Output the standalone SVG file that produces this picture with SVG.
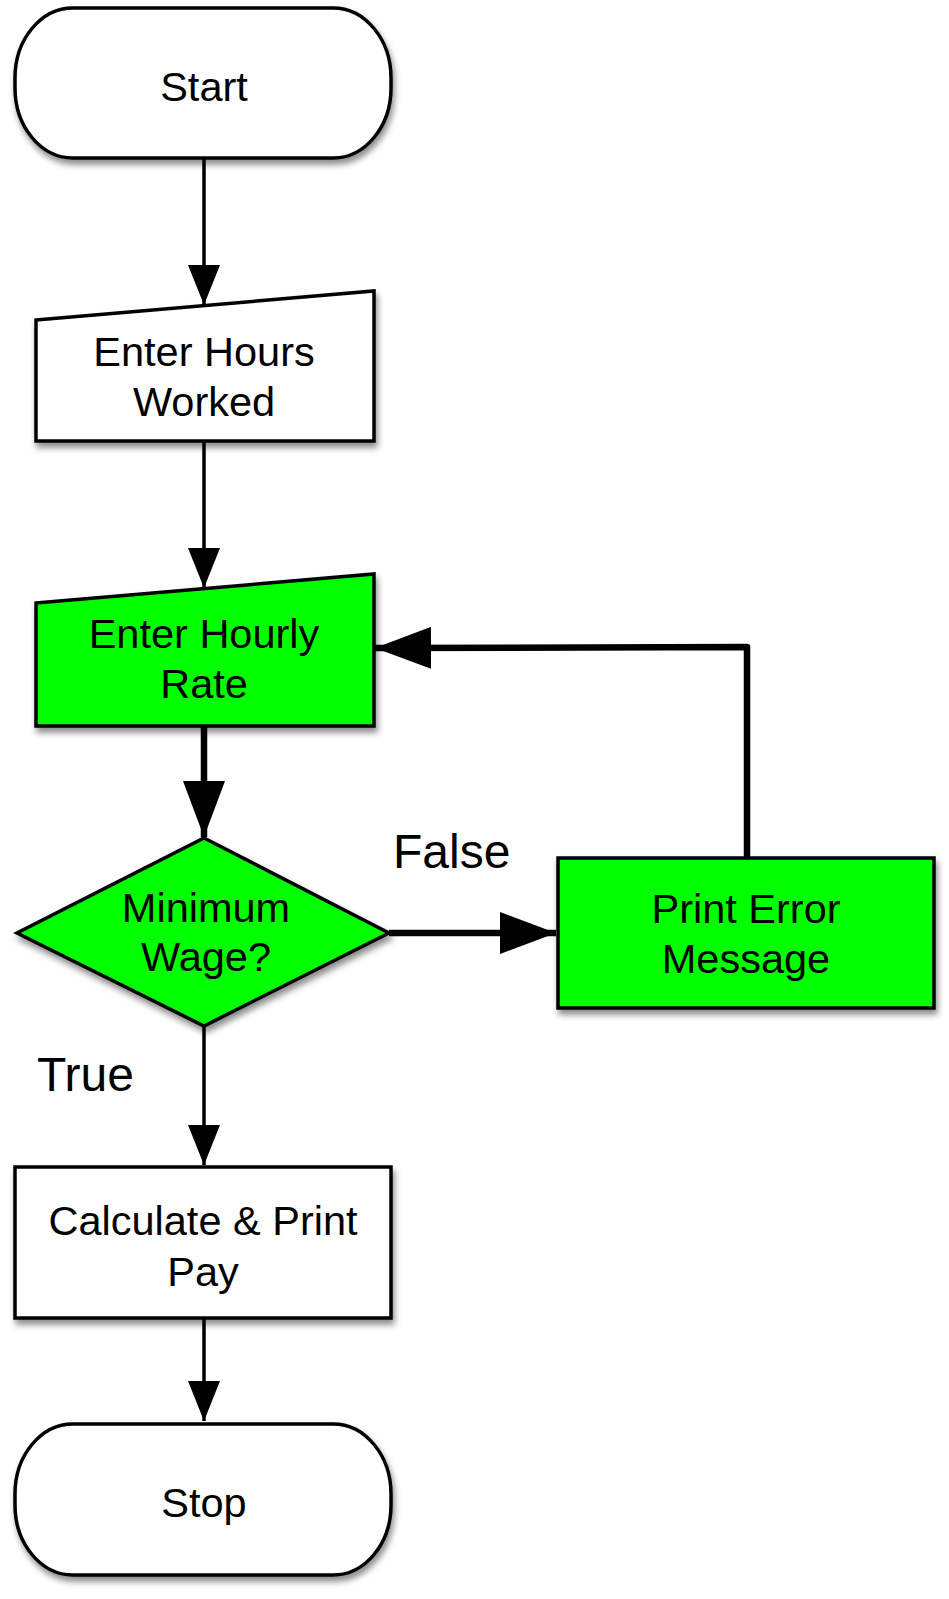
<svg xmlns="http://www.w3.org/2000/svg" width="949" height="1599" viewBox="0 0 949 1599">
<defs>
<filter id="sh" x="-10%" y="-10%" width="125%" height="130%">
<feDropShadow dx="2" dy="5" stdDeviation="3" flood-color="#000" flood-opacity="0.45"/>
</filter>
<marker id="ah" markerUnits="userSpaceOnUse" markerWidth="40" markerHeight="32" refX="40" refY="16" orient="auto">
<path d="M0,0 L40,16 L0,32 Z" fill="#000"/>
</marker>
<marker id="ahb" markerUnits="userSpaceOnUse" markerWidth="56" markerHeight="42" refX="56" refY="21" orient="auto">
<path d="M0,0 L56,21 L0,42 Z" fill="#000"/>
</marker>
</defs>
<style>
.node{stroke:#000;stroke-width:3.5;stroke-linejoin:miter}
.w{fill:#fff}
.g{fill:#00ff00}
.t{font-family:"Liberation Sans",Arial,Helvetica,sans-serif;font-size:41.5px;fill:#000;text-anchor:middle}
.lbl{font-family:"Liberation Sans",Arial,Helvetica,sans-serif;font-size:48px;fill:#000}
.c{fill:none;stroke:#000;stroke-width:3.5}
.cb{fill:none;stroke:#000;stroke-width:6.5;stroke-linejoin:round}
</style>
<rect width="949" height="1599" fill="#fff"/>
<g id="connectors">
<line class="c" x1="204" y1="158" x2="204" y2="305" marker-end="url(#ah)"/>
<line class="c" x1="204" y1="441" x2="204" y2="588" marker-end="url(#ah)"/>
<line class="cb" x1="204" y1="726" x2="204" y2="837" marker-end="url(#ahb)"/>
<line class="cb" x1="389" y1="933" x2="556" y2="933" marker-end="url(#ahb)"/>
<polyline class="cb" points="747,858 747,647 375,648" marker-end="url(#ahb)"/>
<line class="c" x1="204" y1="1026" x2="204" y2="1165" marker-end="url(#ah)"/>
<line class="c" x1="204" y1="1318" x2="204" y2="1421" marker-end="url(#ah)"/>
</g>
<g id="start">
<rect class="node w" x="15" y="8" width="376" height="150" rx="58" ry="70" filter="url(#sh)"/>
<text class="t" x="204" y="101">Start</text>
</g>
<g id="enter-hours">
<polygon class="node w" points="36,320 374,291 374,441 36,441" filter="url(#sh)"/>
<text class="t" x="204" y="366">Enter Hours</text>
<text class="t" x="204" y="416">Worked</text>
</g>
<g id="enter-rate">
<polygon class="node g" points="36,603 374,574 374,726 36,726" filter="url(#sh)"/>
<text class="t" x="204" y="648">Enter Hourly</text>
<text class="t" x="204" y="698">Rate</text>
</g>
<g id="decision">
<polygon class="node g" points="204,838 389,933 204,1026 17,933" filter="url(#sh)"/>
<text class="t" x="206" y="922">Minimum</text>
<text class="t" x="206" y="971">Wage?</text>
</g>
<g id="print-error">
<rect class="node g" x="558" y="858" width="376" height="150" filter="url(#sh)"/>
<text class="t" x="746" y="923">Print Error</text>
<text class="t" x="746" y="973">Message</text>
</g>
<g id="calculate">
<rect class="node w" x="15" y="1167" width="376" height="151" filter="url(#sh)"/>
<text class="t" x="203" y="1235">Calculate &amp; Print</text>
<text class="t" x="203" y="1286">Pay</text>
</g>
<g id="stop">
<rect class="node w" x="15" y="1424" width="376" height="151" rx="58" ry="70" filter="url(#sh)"/>
<text class="t" x="204" y="1517">Stop</text>
</g>
<g id="labels">
<text class="lbl" x="393" y="868">False</text>
<text class="lbl" x="37" y="1091">True</text>
</g>
</svg>
